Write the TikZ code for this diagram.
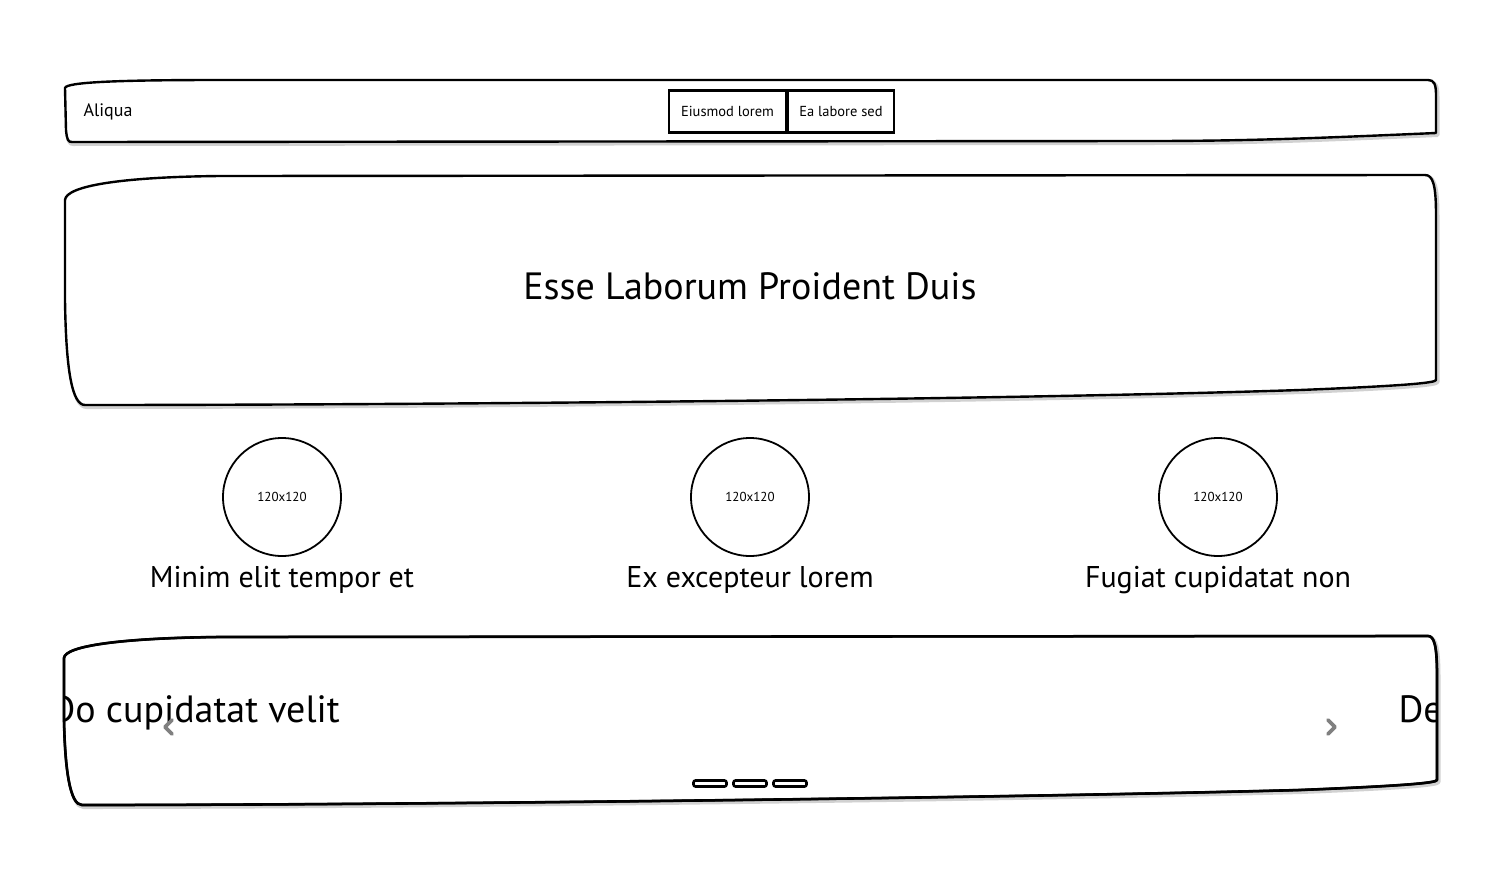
\documentclass[tikz,border=0pt]{standalone}
\usepackage{fontspec}
\setmainfont{PT Sans}
\begin{document}
\begin{tikzpicture}[x=1pt,y=-1pt,
  boxline/.style={line width=2.4pt, line join=round},
  shadowline/.style={line width=4pt, draw=black!18, line join=round},
  circ/.style={circle, draw, line width=1.8pt, minimum size=118pt, inner sep=0pt, font=\fontsize{13}{15}\selectfont},
  caption/.style={font=\fontsize{30}{34}\selectfont, anchor=base},
  btn/.style={draw, line width=2.4pt, minimum height=42pt, inner sep=4pt, font=\fontsize{14.5}{16}\selectfont, fill=white},
  chev/.style={draw=black!50, line width=3.6pt, line cap=round, line join=round},
  dotbar/.style={draw, line width=2.6pt, rounded corners=2pt, fill=white}
]
\useasboundingbox (0,0) rectangle (1500,886);
\fill[white] (0,0) rectangle (1500,886);

% ---- top bar ----
\def\topbar{(65,88) .. controls (66,82) and (120,80) .. (220,80) -- (1428,80) .. controls (1434,80) and (1436,84) .. (1436,95) -- (1436,133) .. controls (1320,138) and (1250,141) .. (1150,141) -- (72,142) .. controls (68,142) and (67,140) .. (66,130) -- cycle}
\draw[shadowline, shift={(1.5,2)}] \topbar;
\draw[boxline, fill=white] \topbar;
\node[anchor=west, font=\fontsize{18}{20}\selectfont] (aliqua) at (80,112) {Aliqua};
\node[btn, minimum width=117pt] (b1) at (727.5,111.5) {Eiusmod lorem};
\node[btn, minimum width=106pt] (b2) at (841,111.5) {Ea labore sed};

% ---- hero ----
\def\hero{(65,200) .. controls (66,186) and (120,177) .. (220,176) -- (1425,175) .. controls (1433,175) and (1436,185) .. (1436,215) -- (1436,380) .. controls (1436,383) and (1400,386) .. (1300,390) .. controls (1000,400) and (400,405) .. (85,405) .. controls (72,405) and (66,370) .. (65,300) -- cycle}
\draw[shadowline, shift={(1.5,2)}] \hero;
\draw[boxline, fill=white] \hero;
\node[font=\fontsize{38}{42}\selectfont] (title) at (750,286) {Esse Laborum Proident Duis};

% ---- circles ----
\node[circ] (c1) at (282,497) {120x120};
\node[circ] (c2) at (750,497) {120x120};
\node[circ] (c3) at (1218,497) {120x120};
\node[caption] (t1) at (282,587) {Minim elit tempor et};
\node[caption] (t2) at (750,587) {Ex excepteur lorem};
\node[caption] (t3) at (1218,587) {Fugiat cupidatat non};

% ---- carousel ----
\def\car{(64,658) .. controls (65,646) and (120,638) .. (220,637) -- (1428,636) .. controls (1434,636) and (1437,645) .. (1437,675) -- (1437,780) .. controls (1437,783) and (1400,786) .. (1300,790) .. controls (1000,798) and (400,805) .. (82,805) .. controls (70,805) and (65,770) .. (64,720) -- cycle}
\draw[shadowline, shift={(1.5,2)}] \car;
\draw[boxline, fill=white] \car;
\begin{scope}
\clip \car;
\node[anchor=base west, font=\fontsize{38}{42}\selectfont] (s1) at (47,722) {Do cupidatat velit};
\node[anchor=base west, font=\fontsize{38}{42}\selectfont] (s2) at (1395,722) {De};
\end{scope}
\draw[boxline, line width=2.6pt] \car;
\coordinate (lc) at (168,727);
\coordinate (rc) at (1332,727);
\draw[chev] ([shift={(4,-7)}]lc) -- ([shift={(-3,0)}]lc) -- ([shift={(4,7)}]lc);
\draw[chev] ([shift={(-4,-7)}]rc) -- ([shift={(3,0)}]rc) -- ([shift={(-4,7)}]rc);
\node[dotbar, minimum width=33pt, minimum height=6pt, inner sep=0pt] (d1) at (710,783.5) {};
\node[dotbar, minimum width=33pt, minimum height=6pt, inner sep=0pt] (d2) at (750,783.5) {};
\node[dotbar, minimum width=33pt, minimum height=6pt, inner sep=0pt] (d3) at (790,783.5) {};
\end{tikzpicture}
\end{document}
